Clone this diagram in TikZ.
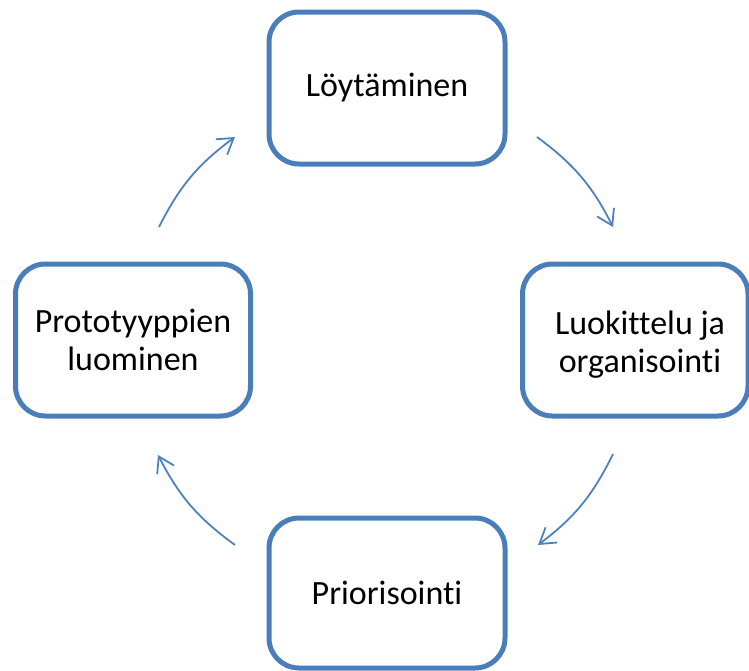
\documentclass[tikz,border=0pt]{standalone}
\usepackage{fontspec}
\setmainfont{Carlito}[Ligatures={NoCommon}]
\usetikzlibrary{arrows.meta}

\definecolor{boxblue}{RGB}{74,126,187}
\definecolor{arrowblue}{RGB}{79,129,189}

\tikzset{
  stagebox/.style={
    draw=boxblue, line width=5pt, fill=white,
    rounded corners=30pt, rectangle,
    minimum width=236pt, minimum height=152pt,
    align=center, inner sep=0pt,
    font=\fontsize{34}{38}\selectfont
  },
  stagetext/.style={align=center, inner sep=0pt, font=\fontsize{34}{38}\selectfont},
  cyclearrow/.style={
    draw=arrowblue, line width=1.8pt,
    -{Straight Barb[length=15pt,width=19pt,line width=1.8pt]},
    bend left=13.4
  }
}

\begin{document}
\begin{tikzpicture}[x=1pt,y=-1pt]
  \useasboundingbox (0,0) rectangle (749,670);

  % the four stages of the cycle
  \node[stagebox] (find) at (387,88) {Löytäminen};
  \node[stagebox, minimum width=225.5pt] (sort) at (635.25,340) {};
  \node[stagetext] (sorttext) at (640,345) {Luokittelu ja\\organisointi};
  \node[stagebox, minimum height=150pt] (prio) at (387,593) {Priorisointi};
  \node[stagebox, minimum width=235pt] (proto) at (133,340) {Prototyyppien\\luominen};

  % arc ends between the stages
  \coordinate (a1s) at (537,137);
  \coordinate (a1e) at (613,227);
  \coordinate (a2s) at (613,454);
  \coordinate (a2e) at (538,545);
  \coordinate (a3s) at (235,545);
  \coordinate (a3e) at (158,455);
  \coordinate (a4s) at (159,227);
  \coordinate (a4e) at (235,137);

  \draw[cyclearrow] (a1s) to (a1e);
  \draw[cyclearrow] (a2s) to (a2e);
  \draw[cyclearrow] (a3s) to (a3e);
  \draw[cyclearrow] (a4s) to (a4e);
\end{tikzpicture}
\end{document}
